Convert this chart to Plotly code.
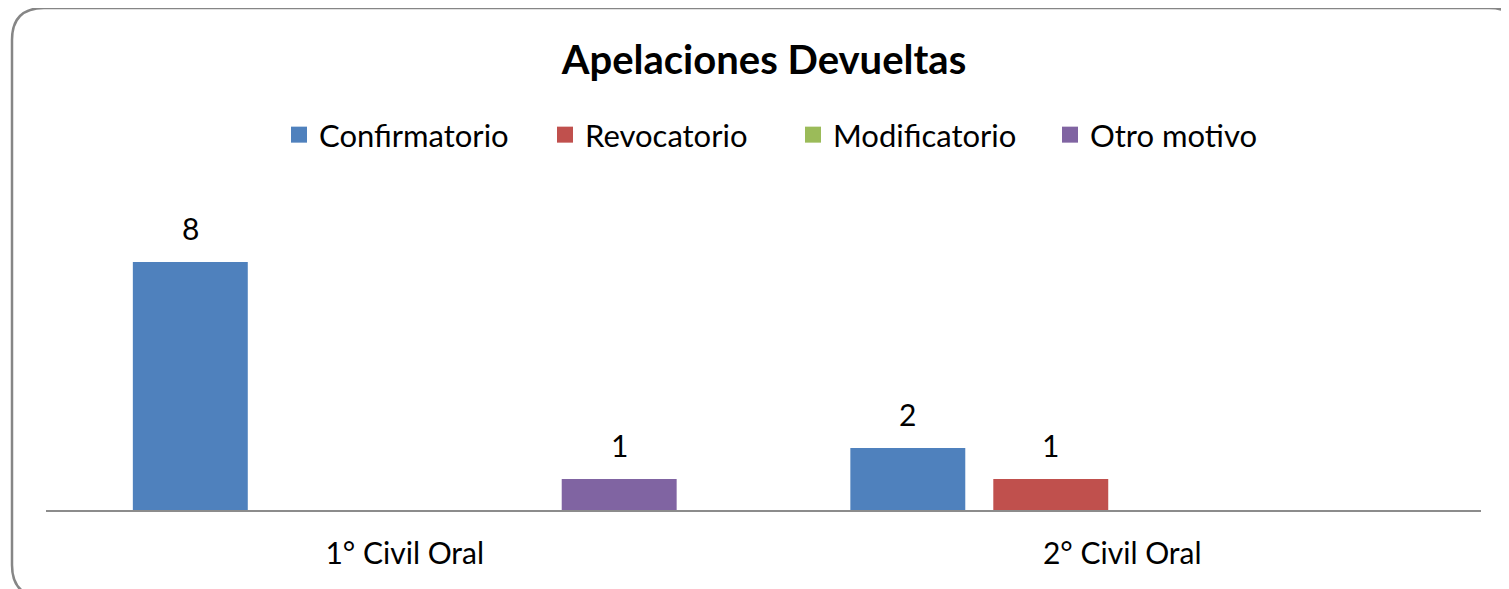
import plotly.graph_objects as go

categories = ["1° Civil Oral", "2° Civil Oral"]
series_names = ["Confirmatorio", "Revocatorio", "Modificatorio", "Otro motivo"]
confirmatorio = [8, 2]
revocatorio = [0, 1]
modificatorio = [0, 0]
otro_motivo = [1, 0]
series_values = [confirmatorio, revocatorio, modificatorio, otro_motivo]
colors = ["#4F81BD", "#C0504D", "#9BBB59", "#8064A2"]
legend_widths = [221, 203, 212, 212]

OFF = 8  # default page body margin
W, H = 1509 - OFF, 589 - OFF
ML, MR, MT, MB = 46 - OFF, 28, 200 - OFF, 79
BARGAP = 0.203
BARGROUPGAP = 0.196
FONT = "Lato"

fig = go.Figure()
for name, vals, col, lw in zip(series_names, series_values, colors, legend_widths):
    fig.add_trace(go.Bar(
        name=name, x=categories, y=vals,
        marker=dict(color=col, line=dict(width=0)),
        showlegend=False,
    ))
    fig.add_trace(go.Scatter(
        name=name, x=[None], y=[None], mode="markers",
        marker=dict(symbol="square", size=18, color=col),
        showlegend=True, legendwidth=lw,
    ))

# data labels above bars (non-zero only)
n = len(series_names)
slot = (1 - BARGAP) / n
for i, vals in enumerate(series_values):
    for ci, v in enumerate(vals):
        if v:
            fig.add_annotation(
                x=ci + (i - (n - 1) / 2) * slot, y=v, xref="x", yref="y",
                text=str(v), showarrow=False, yanchor="middle", yshift=34,
                font=dict(family=FONT, size=30, color="#000000"),
            )

# rounded chart border (paper coordinates converted from page pixels)
pw, ph = W - ML - MR, H - MT - MB
def px(x):
    return (x - OFF - ML) / pw
def py(y):
    return (H - MB - (y - OFF)) / ph
x0, y0, x1, y1, r = 12, 8, 1521, 597, 32
path = (
    f"M {px(x0 + r)} {py(y0)} L {px(x1 - r)} {py(y0)} "
    f"Q {px(x1)} {py(y0)} {px(x1)} {py(y0 + r)} "
    f"L {px(x1)} {py(y1 - r)} Q {px(x1)} {py(y1)} {px(x1 - r)} {py(y1)} "
    f"L {px(x0 + r)} {py(y1)} Q {px(x0)} {py(y1)} {px(x0)} {py(y1 - r)} "
    f"L {px(x0)} {py(y0 + r)} Q {px(x0)} {py(y0)} {px(x0 + r)} {py(y0)} Z"
)
fig.add_shape(type="path", path=path, xref="paper", yref="paper",
              line=dict(color="#868686", width=2.5), layer="below")

fig.update_layout(
    width=W, height=H, autosize=False,
    margin=dict(l=ML, r=MR, t=MT, b=MB, pad=0),
    paper_bgcolor="white", plot_bgcolor="white",
    barmode="group", bargap=BARGAP, bargroupgap=BARGROUPGAP,
    font=dict(family=FONT, size=30, color="#000000"),
    title=dict(text="<b>Apelaciones Devueltas</b>", x=(764 - OFF) / W, xanchor="center",
               y=1 - (60 - OFF) / H, yanchor="middle",
               font=dict(family=FONT, size=40, color="#000000")),
    legend=dict(orientation="h", x=px(291 - 12), xanchor="left", y=py(135), yanchor="middle",
                font=dict(family=FONT, size=31, color="#000000"),
                entrywidthmode="pixels",
                itemsizing="trace", bgcolor="rgba(0,0,0,0)"),
    xaxis=dict(showline=True, linecolor="#8c8c8c", linewidth=2, showgrid=False,
               ticks="outside", ticklen=16, tickcolor="rgba(0,0,0,0)",
               tickfont=dict(family=FONT, size=30, color="#000000"), zeroline=False),
    yaxis=dict(range=[0, 10], visible=False, showgrid=False, zeroline=False),
)

fig.write_html("out.html")
